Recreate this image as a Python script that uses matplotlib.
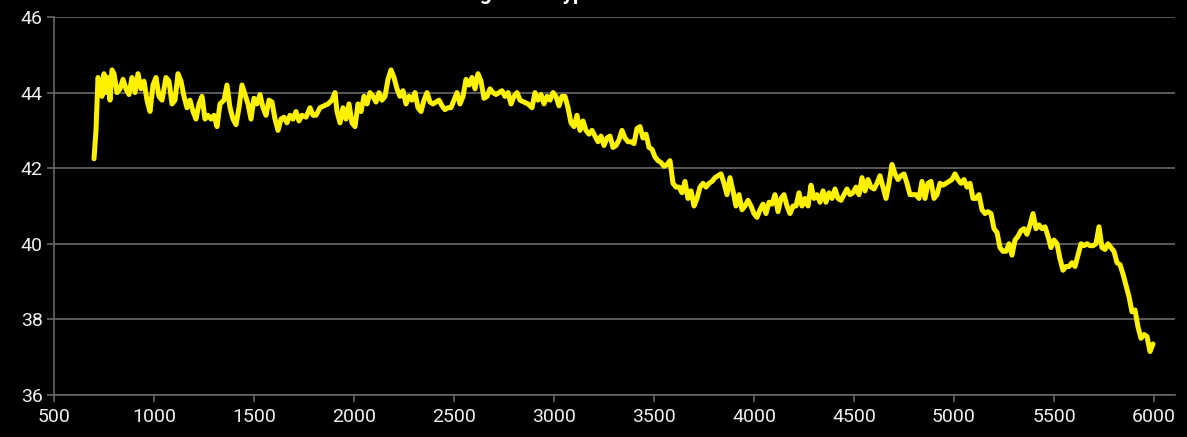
import numpy as np
import matplotlib
matplotlib.use("Agg")
import matplotlib.pyplot as plt

plt.rcParams['font.family'] = ['Roboto', 'DejaVu Sans']

# values
x_vals = [700, 710, 720, 730, 740, 750, 760, 770, 780, 790, 800, 815, 830, 845, 860,
          875, 890, 905, 920, 935, 950, 965, 980, 995, 1010, 1025, 1040, 1060, 1075,
          1090, 1105, 1120, 1135, 1150, 1165, 1180, 1195, 1210, 1225, 1240, 1255,
          1270, 1285, 1300, 1315, 1330, 1350, 1365, 1380, 1395, 1410, 1425, 1440,
          1455, 1470, 1485, 1500, 1515, 1530, 1545, 1560, 1575, 1590, 1605, 1620,
          1635, 1650, 1665, 1680, 1695, 1710, 1725, 1740, 1760, 1780, 1795, 1810,
          1830, 1850, 1870, 1890, 1905, 1915, 1930, 1945, 1960, 1975, 1990, 2005,
          2020, 2035, 2050, 2065, 2080, 2095, 2110, 2125, 2140, 2155, 2170, 2185,
          2200, 2215, 2230, 2245, 2260, 2275, 2290, 2305, 2320, 2335, 2350, 2365,
          2380, 2395, 2410, 2425, 2440, 2455, 2470, 2485, 2500, 2515, 2530, 2545,
          2560, 2575, 2590, 2605, 2620, 2635, 2650, 2665, 2680, 2695, 2710, 2725,
          2740, 2755, 2770, 2785, 2800, 2815, 2830, 2850, 2870, 2890, 2905, 2920,
          2935, 2950, 2965, 2980, 2995, 3010, 3025, 3040, 3055, 3070, 3085, 3100,
          3115, 3130, 3145, 3160, 3175, 3190, 3205, 3220, 3235, 3250, 3265, 3280,
          3295, 3310, 3325, 3340, 3355, 3370, 3385, 3400, 3415, 3430, 3445, 3460,
          3475, 3490, 3505, 3520, 3535, 3550, 3565, 3580, 3595, 3610, 3625, 3640,
          3655, 3670, 3685, 3700, 3715, 3730, 3745, 3760, 3775, 3790, 3805, 3820,
          3835, 3850, 3865, 3880, 3895, 3910, 3925, 3940, 3955, 3970, 3985, 4000,
          4015, 4030, 4045, 4060, 4075, 4090, 4105, 4120, 4135, 4150, 4165, 4180,
          4195, 4210, 4225, 4240, 4255, 4270, 4285, 4300, 4315, 4330, 4345, 4360,
          4375, 4390, 4405, 4420, 4435, 4450, 4465, 4480, 4495, 4510, 4525, 4540,
          4555, 4570, 4585, 4600, 4615, 4630, 4645, 4660, 4675, 4690, 4705, 4720,
          4735, 4750, 4765, 4780, 4795, 4810, 4825, 4840, 4855, 4870, 4885, 4900,
          4915, 4930, 4945, 4960, 4975, 4990, 5005, 5020, 5035, 5050, 5065, 5080,
          5095, 5110, 5125, 5140, 5155, 5170, 5185, 5200, 5215, 5230, 5245, 5260,
          5275, 5290, 5305, 5320, 5335, 5350, 5365, 5380, 5395, 5410, 5425, 5440,
          5455, 5470, 5485, 5500, 5515, 5530, 5545, 5560, 5575, 5590, 5605, 5620,
          5635, 5650, 5665, 5680, 5695, 5710, 5725, 5740, 5755, 5770, 5785, 5800,
          5815, 5830, 5845, 5860, 5875, 5890, 5905, 5920, 5935, 5950, 5965, 5980,
          5995]
y_vals = [42.25, 43.0, 44.4, 44.2, 43.9, 44.5, 44.0, 44.4, 43.8, 44.6, 44.5, 44.0,
          44.1, 44.35, 44.1, 43.95, 44.4, 44.0, 44.5, 44.1, 44.3, 43.8, 43.5, 44.2,
          44.4, 43.9, 43.8, 44.4, 44.3, 43.7, 43.8, 44.5, 44.3, 43.9, 43.6, 43.8,
          43.5, 43.3, 43.7, 43.9, 43.3, 43.4, 43.3, 43.4, 43.1, 43.7, 43.8, 44.2,
          43.6, 43.3, 43.15, 43.6, 44.2, 43.95, 43.7, 43.3, 43.85, 43.7, 43.95, 43.6,
          43.4, 43.8, 43.75, 43.3, 43.0, 43.3, 43.35, 43.2, 43.4, 43.3, 43.5, 43.25,
          43.4, 43.35, 43.6, 43.4, 43.4, 43.6, 43.65, 43.7, 43.8, 44.0, 43.5, 43.2,
          43.6, 43.3, 43.7, 43.2, 43.1, 43.7, 43.5, 43.9, 43.7, 44.0, 43.9, 43.75,
          44.0, 43.8, 43.9, 44.35, 44.6, 44.4, 44.1, 43.9, 44.05, 43.7, 43.9, 43.8,
          44.0, 43.6, 43.5, 43.8, 44.0, 43.75, 43.7, 43.75, 43.8, 43.65, 43.55, 43.6,
          43.6, 43.8, 44.0, 43.7, 43.9, 44.35, 44.2, 44.4, 44.1, 44.5, 44.3, 43.85,
          43.9, 44.1, 44.0, 43.95, 44.0, 44.05, 43.9, 44.0, 43.7, 43.9, 44.0, 43.8,
          43.75, 43.7, 43.6, 44.0, 43.8, 43.95, 43.7, 43.9, 43.8, 44.0, 43.9, 43.65,
          43.9, 43.9, 43.6, 43.2, 43.1, 43.4, 43.0, 43.25, 43.0, 42.9, 43.0, 42.85,
          42.7, 42.85, 42.6, 42.8, 42.85, 42.55, 42.6, 42.75, 43.0, 42.8, 42.7, 42.7,
          42.65, 43.05, 43.1, 42.8, 42.9, 42.55, 42.5, 42.3, 42.2, 42.15, 42.05, 42.1,
          42.2, 41.6, 41.5, 41.5, 41.35, 41.65, 41.2, 41.4, 41.0, 41.2, 41.5, 41.6,
          41.5, 41.6, 41.65, 41.75, 41.8, 41.85, 41.6, 41.3, 41.75, 41.4, 41.0, 41.3,
          40.9, 41.0, 41.15, 41.0, 40.8, 40.7, 40.9, 41.05, 40.8, 41.1, 41.05, 41.3,
          40.85, 41.2, 41.3, 41.0, 40.8, 41.0, 41.0, 41.35, 41.0, 41.2, 41.0, 41.55,
          41.2, 41.3, 41.1, 41.4, 41.1, 41.35, 41.2, 41.45, 41.2, 41.15, 41.3, 41.45,
          41.3, 41.35, 41.5, 41.3, 41.75, 41.4, 41.7, 41.5, 41.45, 41.6, 41.8, 41.5,
          41.2, 41.6, 42.1, 41.85, 41.7, 41.8, 41.85, 41.6, 41.3, 41.3, 41.3, 41.2,
          41.65, 41.2, 41.6, 41.65, 41.2, 41.3, 41.6, 41.55, 41.6, 41.65, 41.7, 41.85,
          41.7, 41.6, 41.7, 41.5, 41.6, 41.2, 41.2, 41.3, 40.9, 40.8, 40.85, 40.8,
          40.4, 40.3, 39.9, 39.8, 39.8, 40.0, 39.7, 40.1, 40.2, 40.35, 40.4, 40.25,
          40.5, 40.8, 40.4, 40.5, 40.4, 40.45, 40.2, 39.9, 40.1, 40.0, 39.6, 39.3,
          39.4, 39.4, 39.5, 39.4, 39.7, 40.0, 39.95, 40.0, 39.95, 39.95, 40.0, 40.45,
          39.9, 39.85, 40.0, 39.9, 39.8, 39.5, 39.45, 39.2, 38.9, 38.6, 38.2, 38.25,
          37.8, 37.5, 37.6, 37.55, 37.15, 37.35]

x_ticks = [500, 1000, 1500, 2000, 2500, 3000, 3500, 4000, 4500, 5000, 5500, 6000]
y_ticks = [36, 38, 40, 42, 44, 46]

fig = plt.figure(figsize=(11.87, 4.37), dpi=100, facecolor='black')
ax = fig.add_axes([54 / 1187, 1 - 395 / 437, (1175 - 54) / 1187, (395 - 17) / 437])
ax.set_facecolor('black')

ax.plot(x_vals, y_vals, color='#fff200', lw=3.6, solid_joinstyle='round',
        solid_capstyle='round', zorder=3)

ax.set_xlim(500, 6105)
ax.set_ylim(36, 46)
ax.set_xticks(x_ticks)
ax.set_yticks(y_ticks)
ax.grid(axis='y', color='#5a5a5a', lw=1.4)
ax.set_axisbelow(True)

for s in ['top', 'right']:
    ax.spines[s].set_visible(False)
for s in ['left', 'bottom']:
    ax.spines[s].set_color('#666666')
    ax.spines[s].set_linewidth(1.2)

ax.tick_params(colors='#666666', length=5, width=1.2)
ax.tick_params(axis='both', labelcolor='#eeeeee', labelsize=14)
ax.tick_params(axis='x', pad=4)
ax.tick_params(axis='y', pad=3)

# title sits above the canvas, only its descenders show
fig.text(425 / 1187, 1.0, 'Average Cell Type', color='white', fontsize=15,
         fontweight='bold', ha='left', va='baseline')

fig.savefig('out.png', dpi=100, facecolor='black')
